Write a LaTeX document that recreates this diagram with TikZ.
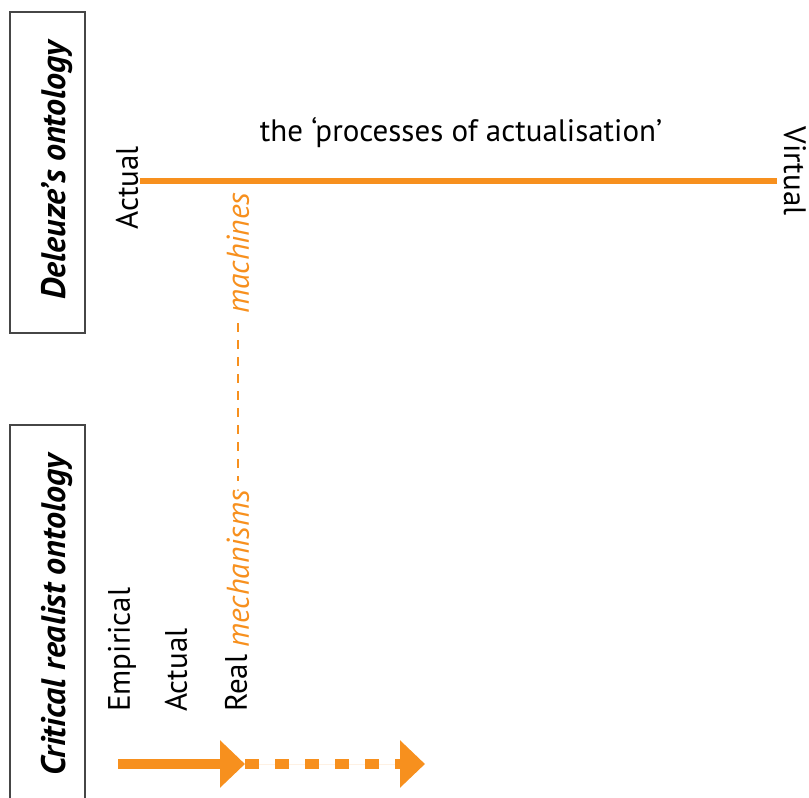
\documentclass[tikz,border=0pt]{standalone}
\usepackage{fontspec}
\setmainfont{PT Sans}
\usetikzlibrary{arrows.meta}
\definecolor{org}{RGB}{247,144,30}
\definecolor{boxgray}{RGB}{70,70,70}
\tikzset{
  lbl/.style={font=\fontsize{31}{36}\selectfont, inner sep=0pt},
  olbl/.style={inner sep=0pt, text=org, font=\fontsize{31.5}{37}\selectfont\itshape},
  boxlbl/.style={font=\fontsize{34}{40}\selectfont\bfseries\itshape, inner sep=0pt},
  frame/.style={draw=boxgray, line width=1.5pt},
  oline/.style={draw=org, line width=6pt},
  arr/.style={draw=org, fill=org, line width=10pt, -{Triangle[length=25pt,width=46pt]}},
}
\begin{document}
\begin{tikzpicture}[x=1pt,y=-1pt]
\useasboundingbox (0,0) rectangle (809,798);
\clip (0,0) rectangle (809,798);
% frames
\draw[frame] (10,12) rectangle (85,333);
\node[boxlbl, rotate=90] (dlab) at (57,170) {Deleuze’s ontology};
\draw[frame] (10,425) rectangle (85,830);
\node[boxlbl, rotate=90] (clab) at (57,615) {Critical realist ontology};
% Deleuze line
\coordinate (actL) at (140,181);
\coordinate (virR) at (777,181);
\draw[oline] (actL) -- (virR);
\node[lbl, rotate=90] (actual1) at (127,188) {Actual};
\node[lbl, rotate=-90] (virtual) at (795,171) {Virtual};
\node[lbl] (proc) at (461,133) {the ‘processes of actualisation’};
% machines / mechanisms
\node[olbl, rotate=90] (mach) at (238,253) {machines};
\coordinate (mtop) at (238,323);
\coordinate (mbot) at (238,481);
\coordinate (mdot) at (238,490);
\draw[draw=org, line width=1.5pt, dash pattern=on 9pt off 8pt] (mtop) -- (mbot);
\fill[org] (mdot) circle (1pt);
% critical realist labels
\node[lbl, rotate=90, anchor=west] (emp) at (122,712) {Empirical};
\node[lbl, rotate=90, anchor=west] (act2) at (176,712) {Actual};
\node[lbl, rotate=90, anchor=west] (real) at (236,712) {Real};
\node[olbl, rotate=90, anchor=west] (mech) at (238,648) {mechanisms};
% arrows
\coordinate (a0) at (118,764);
\coordinate (a1) at (245,764);
\coordinate (a2) at (425,764);
\draw[arr] (a0) -- (a1);
\draw[arr, dash pattern=on 14pt off 16pt] (a1) -- (a2);
\end{tikzpicture}
\end{document}
